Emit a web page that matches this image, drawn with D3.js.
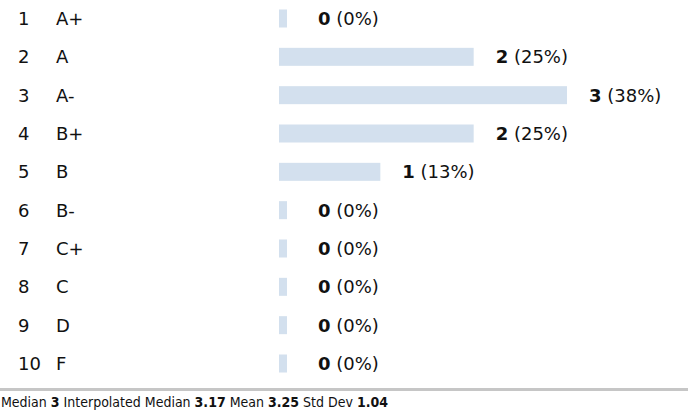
<!DOCTYPE html>
<html>
<head>
<meta charset="utf-8">
<script src="https://cdn.jsdelivr.net/npm/d3@7"></script>
<style>
body { margin: 0; background: #fff; }
svg { display: block; }
</style>
</head>
<body>
<svg id="chart" width="688" height="410"></svg>
<script>
var ranks = [1, 2, 3, 4, 5, 6, 7, 8, 9, 10];
var grades = ["A+", "A", "A-", "B+", "B", "B-", "C+", "C", "D", "F"];
var counts = [0, 2, 3, 2, 1, 0, 0, 0, 0, 0];
var percents = ["0%", "25%", "38%", "25%", "13%", "0%", "0%", "0%", "0%", "0%"];
var statNames = ["Median", "Interpolated Median", "Mean", "Std Dev"];
var statValues = ["3", "3.17", "3.25", "1.04"];

var svg = d3.select("#chart");
var font = "DejaVu Sans";

var y = d3.scalePoint()
    .domain(d3.range(grades.length))
    .range([18.5, 363.5]);

var x = d3.scaleLinear()
    .domain([0, d3.max(counts)])
    .range([8, 288]);

var x0 = 279, barH = 18;

var rows = svg.selectAll(".row")
  .data(grades)
  .enter().append("g")
    .attr("class", "row")
    .attr("transform", function(d, i) { return "translate(0," + y(i) + ")"; });

rows.append("text")
    .attr("x", 18)
    .attr("dy", "0.36em")
    .style("font-family", font)
    .style("font-size", "18px")
    .attr("fill", "#111")
    .text(function(d, i) { return ranks[i]; });

rows.append("text")
    .attr("x", 56)
    .attr("dy", "0.36em")
    .style("font-family", font)
    .style("font-size", "18px")
    .attr("fill", "#111")
    .text(function(d) { return d; });

rows.append("rect")
    .attr("x", x0)
    .attr("y", -barH / 2)
    .attr("width", function(d, i) { return x(counts[i]); })
    .attr("height", barH)
    .attr("fill", "#d3e0ee");

var lab = rows.append("text")
    .attr("x", function(d, i) { return x0 + Math.max(x(counts[i]), 17) + 22; })
    .attr("dy", "0.36em")
    .style("font-family", font)
    .style("font-size", "18px")
    .attr("fill", "#111");
lab.append("tspan")
    .style("font-weight", "bold")
    .text(function(d, i) { return counts[i]; });
lab.append("tspan")
    .text(function(d, i) { return " (" + percents[i] + ")"; });

// separator
svg.append("rect")
    .attr("x", 0)
    .attr("y", 388)
    .attr("width", 688)
    .attr("height", 3)
    .attr("fill", "#c6c6c6");

var stats = svg.append("text")
    .attr("x", 1)
    .attr("y", 407)
    .style("font-family", "DejaVu Sans Condensed")
    .style("font-size", "14px")
    .attr("fill", "#111");
statNames.forEach(function(n, i) {
  stats.append("tspan").text((i ? " " : "") + n + " ");
  stats.append("tspan").style("font-weight", "bold").text(statValues[i]);
});
</script>
</body>
</html>
